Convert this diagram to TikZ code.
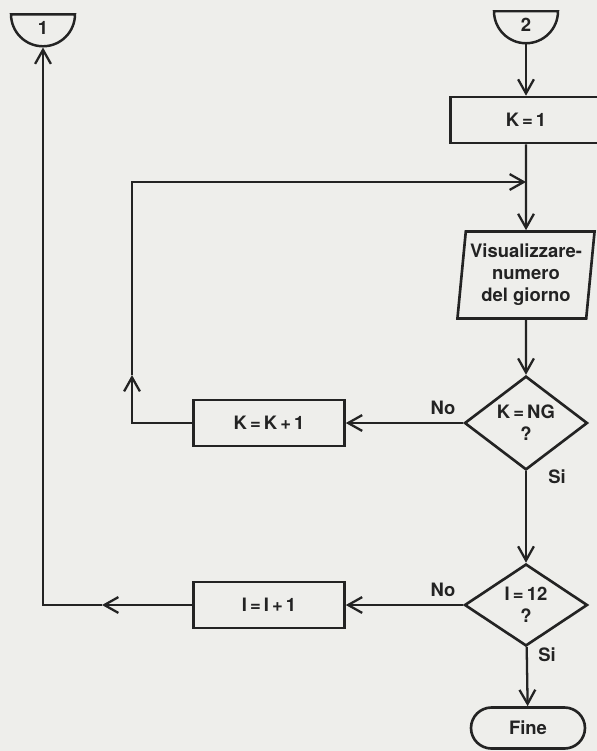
\documentclass[tikz,border=0pt]{standalone}
\usepackage{fontspec}
\setmainfont{TeX Gyre Heros}
\usetikzlibrary{shapes.geometric,arrows.meta}
\definecolor{paper}{RGB}{238,238,235}
\definecolor{ink}{RGB}{35,35,35}
\tikzset{
  txt/.style={text=ink,font=\fontsize{10.5}{12.5}\selectfont\bfseries},
  box/.style={txt,draw=ink,line width=1.5pt,minimum width=3.02cm,minimum height=0.92cm},
  io/.style={txt,trapezium,trapezium left angle=83,trapezium right angle=97,trapezium stretches=true,
    draw=ink,line width=1.5pt,minimum width=2.76cm,minimum height=1.74cm,align=center,inner sep=1pt},
  test/.style={txt,diamond,draw=ink,line width=1.5pt,minimum width=2.46cm,minimum height=1.64cm,
    align=center,inner sep=0pt},
  term/.style={txt,draw=ink,line width=1.5pt,rounded corners=0.41cm,minimum width=2.28cm,minimum height=0.82cm},
  conn/.style={txt,semicircle,shape border rotate=180,draw=ink,line width=1.4pt,minimum width=1.28cm,inner sep=0pt},
  lab/.style={txt},
  flow/.style={draw=ink,line width=1.3pt,-{Straight Barb[length=8pt,width=9pt]}}
}
\begin{document}
\begin{tikzpicture}[x=0.02cm,y=-0.02cm]

\useasboundingbox (0,0) rectangle (597,751);
\fill[paper] (0,0) rectangle (597,751);

% connectors
\node[conn] (c1) at (43,28) {1};
\node[conn] (c2) at (526,25) {2};

% right column
\node[box] (k1) at (526,120) {K\,=\,1};
\node[io] (vis) at (526,275) {Visualizzare-\\numero\\del giorno};
\node[test] (d1) at (526,423) {K\,=\,NG\\?};
\node[test] (d2) at (526,605) {I\,=\,12\\?};
\node[term] (fine) at (528,728) {Fine};

% left column
\node[box] (kk) at (269,423) {K\,=\,K\,+\,1};
\node[box] (ii) at (269,605) {I\,=\,I\,+\,1};

% labels
\node[lab] (no1) at (443,408) {No};
\node[lab] (si1) at (557,477) {Si};
\node[lab] (no2) at (443,590) {No};
\node[lab] (si2) at (547,655) {Si};

\coordinate (join) at (526,182);
\coordinate (up1) at (132,375);
\coordinate (back1) at (102,605);

\draw[flow] (c2) -- (k1);
\draw[flow] (k1) -- (vis);
\draw[flow] (vis) -- (d1);
\draw[flow] (d1) -- (kk);
\draw[flow] (kk.west) -| (up1);
\draw[flow] (up1) |- (join);
\draw[flow] (d1) -- (d2);
\draw[flow] (d2) -- (ii);
\draw[flow] (ii) -- (back1);
\draw[flow] (back1) -| (c1);
\draw[flow] (d2) -- (fine);

\end{tikzpicture}
\end{document}
